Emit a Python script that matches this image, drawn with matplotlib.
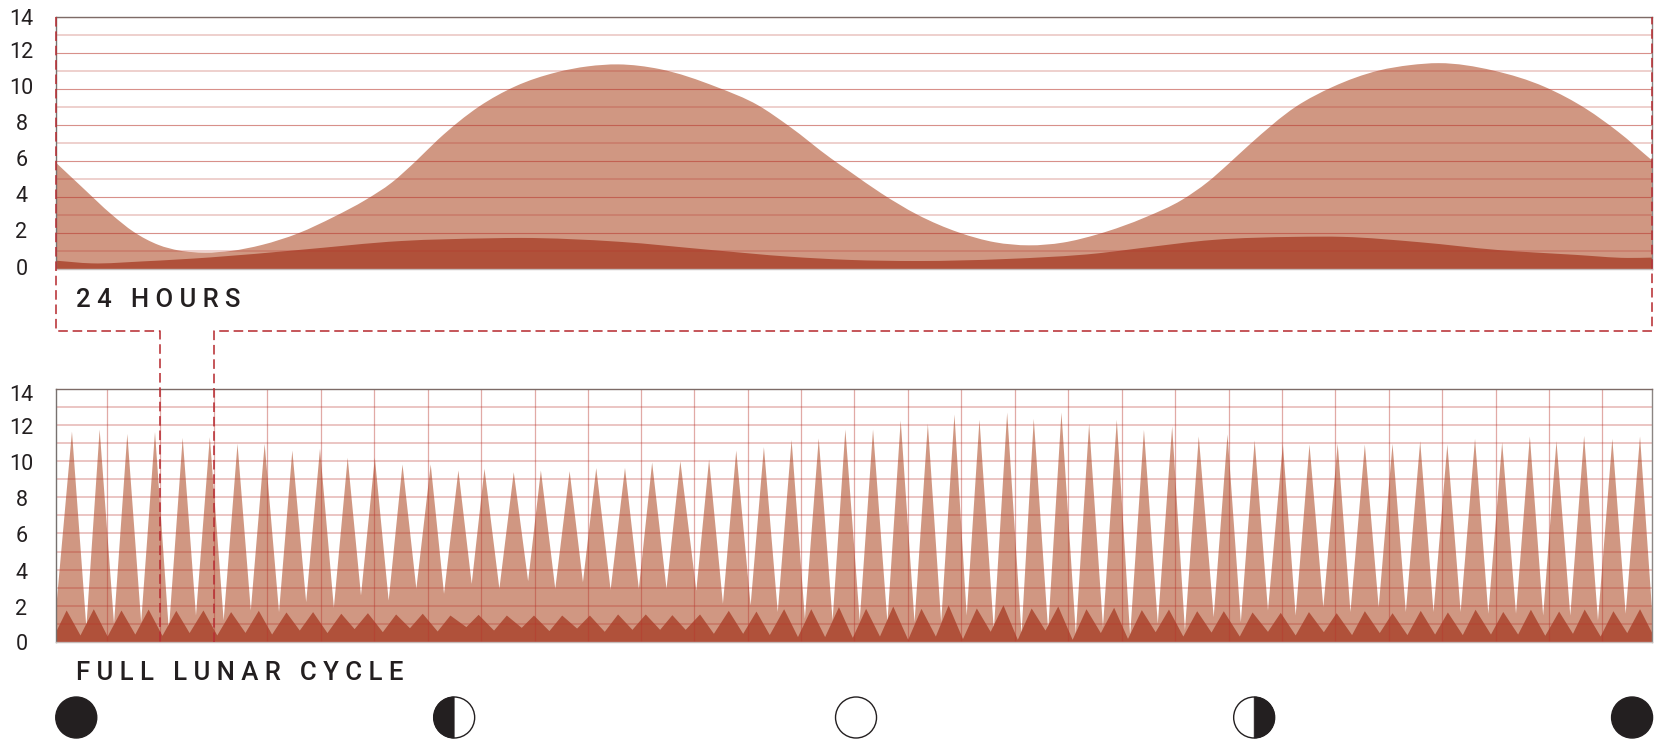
import numpy as np
import matplotlib
matplotlib.use("Agg")
import matplotlib.pyplot as plt
from matplotlib.patches import Circle, Wedge, PathPatch
from matplotlib.path import Path
from matplotlib.transforms import ScaledTranslation

# ---------- 24 hour panel (hours, metres) ----------
day_high_hours = [0, .39, .85, 1.17, 1.55, 1.86, 2.25, 2.64, 3.10, 3.65, 4.19, 4.66, 5.05, 5.43, 5.75, 6.37,
                  6.91, 7.53, 8.00, 8.46, 9.08, 9.94, 10.56, 11.03, 11.65, 11.94, 12.41, 12.96, 13.58, 14.12,
                  14.63, 15.14, 15.68, 16.39, 16.93, 17.32, 17.63, 17.94, 18.65, 19.19, 19.89, 20.36, 20.79,
                  21.61, 22.39, 23.01, 23.48, 24]
day_high_level = [5.94, 4.59, 3.02, 2.09, 1.35, 1.04, .93, 1.02, 1.35, 2.0, 2.92, 3.85, 4.8, 6.05, 7.2, 9.04,
                  10.15, 10.93, 11.26, 11.37, 11.11, 10.11, 9.1, 7.93, 6.17, 5.42, 4.22, 3.02, 2.04, 1.5,
                  1.33, 1.48, 1.96, 2.9, 3.85, 4.85, 5.85, 6.9, 9.04, 10.11, 11.03, 11.33, 11.44,
                  11.03, 10.11, 8.89, 7.65, 6.03]
day_low_hours = [0, .54, 1.32, 2.33, 3.65, 5.20, 6.52, 6.99, 8.46, 9.86, 11.03, 11.94, 12.96, 14.28, 15.68,
                 16.30, 17.40, 18.65, 19.35, 20.51, 21.68, 22.85, 23.63, 24]
day_low_level = [.48, .33, .44, .66, 1.07, 1.57, 1.72, 1.74, 1.53, 1.07, .70, .52, .46, .57, .89,
                 1.17, 1.63, 1.80, 1.80, 1.5, 1.07, .8, .63, .65]

# ---------- lunar cycle panel (days, metres) ----------
start_high, start_low = 1.8, .57
high_peak_day = [.30, .82, 1.34, 1.86, 2.38, 2.89, 3.41, 3.92, 4.44, 4.96, 5.48, 5.99, 6.51, 7.04, 7.56, 8.05,
                 8.60, 9.11, 9.65, 10.15, 10.69, 11.20, 11.73, 12.27, 12.78, 13.30, 13.82, 14.33, 14.83, 15.35,
                 15.87, 16.38, 16.88, 17.35, 17.87, 18.37, 18.89, 19.41, 19.93, 20.44, 20.97, 21.47, 22.01,
                 22.52, 23.05, 23.55, 24.08, 24.59, 25.11, 25.63, 26.14, 26.66, 27.17, 27.69, 28.19, 28.71,
                 29.24, 29.76]
high_peak_level = [11.66, 11.77, 11.53, 11.63, 11.31, 11.35, 10.98, 10.98, 10.61, 10.71, 10.21, 10.21, 9.84,
                   9.84, 9.51, 9.60, 9.41, 9.51, 9.47, 9.64, 9.65, 9.95, 10.02, 10.11, 10.61, 10.80, 11.20,
                   11.28, 11.77, 11.77, 12.27, 12.09, 12.60, 12.31, 12.71, 12.36, 12.71, 12.09, 12.31, 11.75,
                   11.94, 11.39, 11.50, 11.17, 10.98, 10.94, 10.98, 10.94, 10.98, 11.13, 10.94, 11.26, 11.07,
                   11.39, 11.13, 11.42, 11.26, 11.39]
high_trough_day = [.57, 1.09, 1.60, 2.12, 2.63, 3.15, 3.66, 4.19, 4.70, 5.22, 5.73, 6.25, 6.77, 7.29, 7.81, 8.33,
                   8.87, 9.38, 9.90, 10.42, 10.95, 11.47, 12.03, 12.53, 13.05, 13.56, 14.07, 14.59, 15.10,
                   15.62, 16.13, 16.63, 17.11, 17.62, 18.14, 18.64, 19.16, 19.67, 20.18, 20.70, 21.21, 21.75,
                   22.26, 22.77, 23.29, 23.81, 24.32, 24.85, 25.36, 25.88, 26.39, 26.91, 27.43, 27.94, 28.45,
                   28.97, 29.49, 29.99]
high_trough_level = [.85, 1.03, 1.12, .66, 1.49, 1.22, 1.77, 1.68, 2.23, 1.92, 2.60, 2.32, 2.97, 2.69,
                     3.24, 2.97, 3.39, 2.97, 3.33, 2.91, 2.97, 2.97, 2.87, 2.14, 2.05, 1.68, 1.31, 1.22,
                     1.22, 1.12, 1.12, 1.12, 1.49, .66, .48, .66, .48, .85, .39, 1.03, .66, 1.40, 1.12,
                     1.77, 1.49, 1.95, 1.68, 1.95, 1.68, 1.68, 1.68, 1.59, 1.59, 1.49, 1.49, 1.22, 1.59, 1.59]
low_peak_day = [.20, .71, 1.23, 1.74, 2.26, 2.77, 3.29, 3.81, 4.33, 4.83, 5.36, 5.86, 6.39, 6.89, 7.41,
                7.94, 8.47, 8.98, 9.51, 10.03, 10.56, 11.08, 11.58, 12.10, 12.64, 13.16, 13.68, 14.19, 14.71,
                15.22, 15.73, 16.26, 16.77, 17.30, 17.80, 18.33, 18.83, 19.36, 19.88, 20.40, 20.91, 21.44,
                21.94, 22.48, 23.01, 23.54, 24.06, 24.59, 25.11, 25.64, 26.15, 26.67, 27.19, 27.71, 28.24,
                28.72, 29.26, 29.76]
low_peak_level = [1.77, 1.84, 1.77, 1.82, 1.75, 1.77, 1.68, 1.75, 1.66, 1.68, 1.59, 1.62, 1.55, 1.59, 1.49,
                  1.53, 1.49, 1.49, 1.49, 1.49, 1.55, 1.55, 1.51, 1.55, 1.75, 1.71, 1.84, 1.84, 1.95,
                  1.86, 1.99, 1.86, 2.05, 1.88, 2.06, 1.88, 1.99, 1.84, 1.92, 1.79, 1.82, 1.73, 1.73, 1.66,
                  1.64, 1.68, 1.62, 1.73, 1.62, 1.75, 1.66, 1.81, 1.69, 1.81, 1.71, 1.82, 1.73, 1.84]
low_trough_day = [.46, .97, 1.49, 2.00, 2.51, 3.03, 3.56, 4.06, 4.58, 5.10, 5.61, 6.14, 6.65, 7.17,
                  7.71, 8.23, 8.75, 9.27, 9.79, 10.31, 10.83, 11.35, 11.83, 12.36, 12.91, 13.41, 13.94, 14.45,
                  14.97, 15.48, 16.01, 16.53, 17.04, 17.56, 18.07, 18.59, 19.10, 19.63, 20.14, 20.66, 21.18,
                  21.71, 22.24, 22.77, 23.29, 23.82, 24.35, 24.87, 25.39, 25.91, 26.43, 26.96, 27.47, 27.98,
                  28.50, 29.02, 29.52, 29.99]
low_trough_level = [.39, .33, .44, .37, .52, .39, .53, .44, .66, .52, .74, .57, .79, .61,
                    .85, .66, .81, .63, .77, .59, .70, .70, .70, .48, .48, .41, .30, .30,
                    .26, .33, .15, .33, .19, .59, .15, .66, .15, .52, .20, .57, .33, .55, .33,
                    .59, .39, .57, .41, .52, .41, .44, .41, .44, .44, .37, .48, .33, .52, .52]

y_ticks = [0, 2, 4, 6, 8, 10, 12, 14]
title_day = "2 4   H O U R S"
title_cycle = "F U L L   L U N A R   C Y C L E"
moon_days = [.39, 7.49, 15.04, 22.52, 29.62]
moon_phases = ["new", "first", "full", "last", "new"]
grid_days = [.967, 1.97, 2.97, 3.98, 4.98, 5.99, 6.99, 7.99, 9.0, 10.0, 11.0, 12.0, 13.01, 14.01, 15.01, 16.02,
             17.02, 18.02, 19.03, 20.03, 21.03, 22.04, 23.04, 24.04, 25.05, 26.05, 27.06, 28.06, 29.06]
window_edges = [1.97, 2.97]

W, H = 1663, 740
plt.rcParams["font.family"] = ["Roboto"]

INK = "#231f20"
LIGHT_FILL = "#d09782"
DARK_FILL = "#b0513a"
GRID = "#b8352b"
DASH = "#b82f35"

fig = plt.figure(figsize=(W / 100, H / 100), dpi=100, facecolor="white")


def add_ax(left, top, right, bottom):
    return fig.add_axes([left / W, 1 - bottom / H, (right - left) / W, (bottom - top) / H])


L, R = 55.5, 1652.3
top_ax = add_ax(L, 17, R, 269.3)
bot_ax = add_ax(L, 388.7, R, 642)


def interleave(start, a, b):
    return np.concatenate([[start], np.column_stack([a, b]).ravel()])


def smooth_area(ax, xs, ys, color, z):
    """Area under a cubic Hermite path that runs through the read points."""
    x = np.asarray(xs, float)
    y = np.asarray(ys, float)
    m = np.gradient(y, x)
    verts = [(x[0], 0), (x[0], y[0])]
    codes = [Path.MOVETO, Path.LINETO]
    for i in range(len(x) - 1):
        h = (x[i + 1] - x[i]) / 3
        verts += [(x[i] + h, y[i] + m[i] * h), (x[i + 1] - h, y[i + 1] - m[i + 1] * h), (x[i + 1], y[i + 1])]
        codes += [Path.CURVE4] * 3
    verts += [(x[-1], 0), (x[0], 0)]
    codes += [Path.LINETO, Path.CLOSEPOLY]
    ax.add_patch(PathPatch(Path(verts, codes), fc=color, ec="none", lw=0, zorder=z))


smooth_area(top_ax, day_high_hours, day_high_level, LIGHT_FILL, 1)
smooth_area(top_ax, day_low_hours, day_low_level, DARK_FILL, 2)
bot_ax.fill_between(interleave(0, high_peak_day, high_trough_day),
                    0, interleave(start_high, high_peak_level, high_trough_level),
                    color=LIGHT_FILL, lw=0, zorder=1)
bot_ax.fill_between(interleave(0, low_peak_day, low_trough_day),
                    0, interleave(start_low, low_peak_level, low_trough_level),
                    color=DARK_FILL, lw=0, zorder=2)

top_ax.set_xlim(0, 24)
bot_ax.set_xlim(0, 30)
for ax in (top_ax, bot_ax):
    ax.set_ylim(0, 14)
    ax.set_yticks(y_ticks)
    ax.set_yticks(range(1, 14, 2), minor=True)
    ax.set_axisbelow(False)
    ax.tick_params(axis="y", which="both", length=0, pad=24.5, labelsize=15.5, labelcolor=INK)
    for s, c in zip(("top", "left", "right", "bottom"), ("#7d6b67", "#77716f", "#8b8583", "#c4bcba")):
        ax.spines[s].set_color(c)
        ax.spines[s].set_linewidth(1.0)
        ax.spines[s].set_zorder(5)

top_ax.set_xticks([])
top_ax.grid(axis="y", which="major", color=GRID, lw=0.8, alpha=0.55)
top_ax.grid(axis="y", which="minor", color=GRID, lw=1.2, alpha=0.27)
bot_ax.set_xticks(grid_days)
bot_ax.tick_params(axis="x", length=0, labelbottom=False)
bot_ax.grid(axis="y", which="major", color=GRID, lw=1.1, alpha=0.36)
bot_ax.grid(axis="y", which="minor", color=GRID, lw=1.1, alpha=0.36)
bot_ax.grid(axis="x", which="major", color=GRID, lw=0.9, alpha=0.42)

# small vertical nudges of the tick labels (pixels, + = up)
top_nudge = {0: 2, 2: 3, 4: 3, 6: 3, 8: 3, 10: 3, 12: 3, 14: 0}
bot_nudge = {0: 0, 2: -1, 4: -1, 6: -1, 8: -1, 10: -1, 12: -1, 14: -4}
for ax, nudge in ((top_ax, top_nudge), (bot_ax, bot_nudge)):
    for v, t in zip(y_ticks, ax.get_yticklabels()):
        t.set_ha("center")
        t.set_transform(t.get_transform() + ScaledTranslation(0, nudge[v] / 100, fig.dpi_scale_trans))

# overlay in pixel units for the connector, captions and moon row
ov = fig.add_axes([0, 0, 1, 1], facecolor="none")
ov.set_xlim(0, W)
ov.set_ylim(H, 0)
ov.axis("off")


def day_px(d):
    return fig.transFigure.inverted().transform(bot_ax.transData.transform((d, 0)))[0] * W


dash_kw = dict(color=DASH, lw=1.15, dashes=(6, 3), zorder=6)
a, b = day_px(window_edges[0]), day_px(window_edges[1])
ov.plot([L, L, a, a], [17, 330.7, 330.7, 642], **dash_kw)
ov.plot([b, b, R, R], [642, 330.7, 330.7, 17], **dash_kw)

cap_kw = dict(fontsize=18.5, color=INK, va="center", ha="left", fontweight="medium")
ov.text(76, 300, title_day, **cap_kw)
ov.text(76, 672.5, title_cycle, **cap_kw)

# moons
r = 20.5
cy = 717.5
for d, ph in zip(moon_days, moon_phases):
    cx = day_px(d)
    ov.add_patch(Circle((cx, cy), r, fc=INK if ph == "new" else "white", ec=INK, lw=1.0))
    if ph == "first":
        ov.add_patch(Wedge((cx, cy), r, 90, 270, fc=INK, ec=INK, lw=0.5))
    elif ph == "last":
        ov.add_patch(Wedge((cx, cy), r, -90, 90, fc=INK, ec=INK, lw=0.5))

fig.savefig("out.png", dpi=100, facecolor="white")
